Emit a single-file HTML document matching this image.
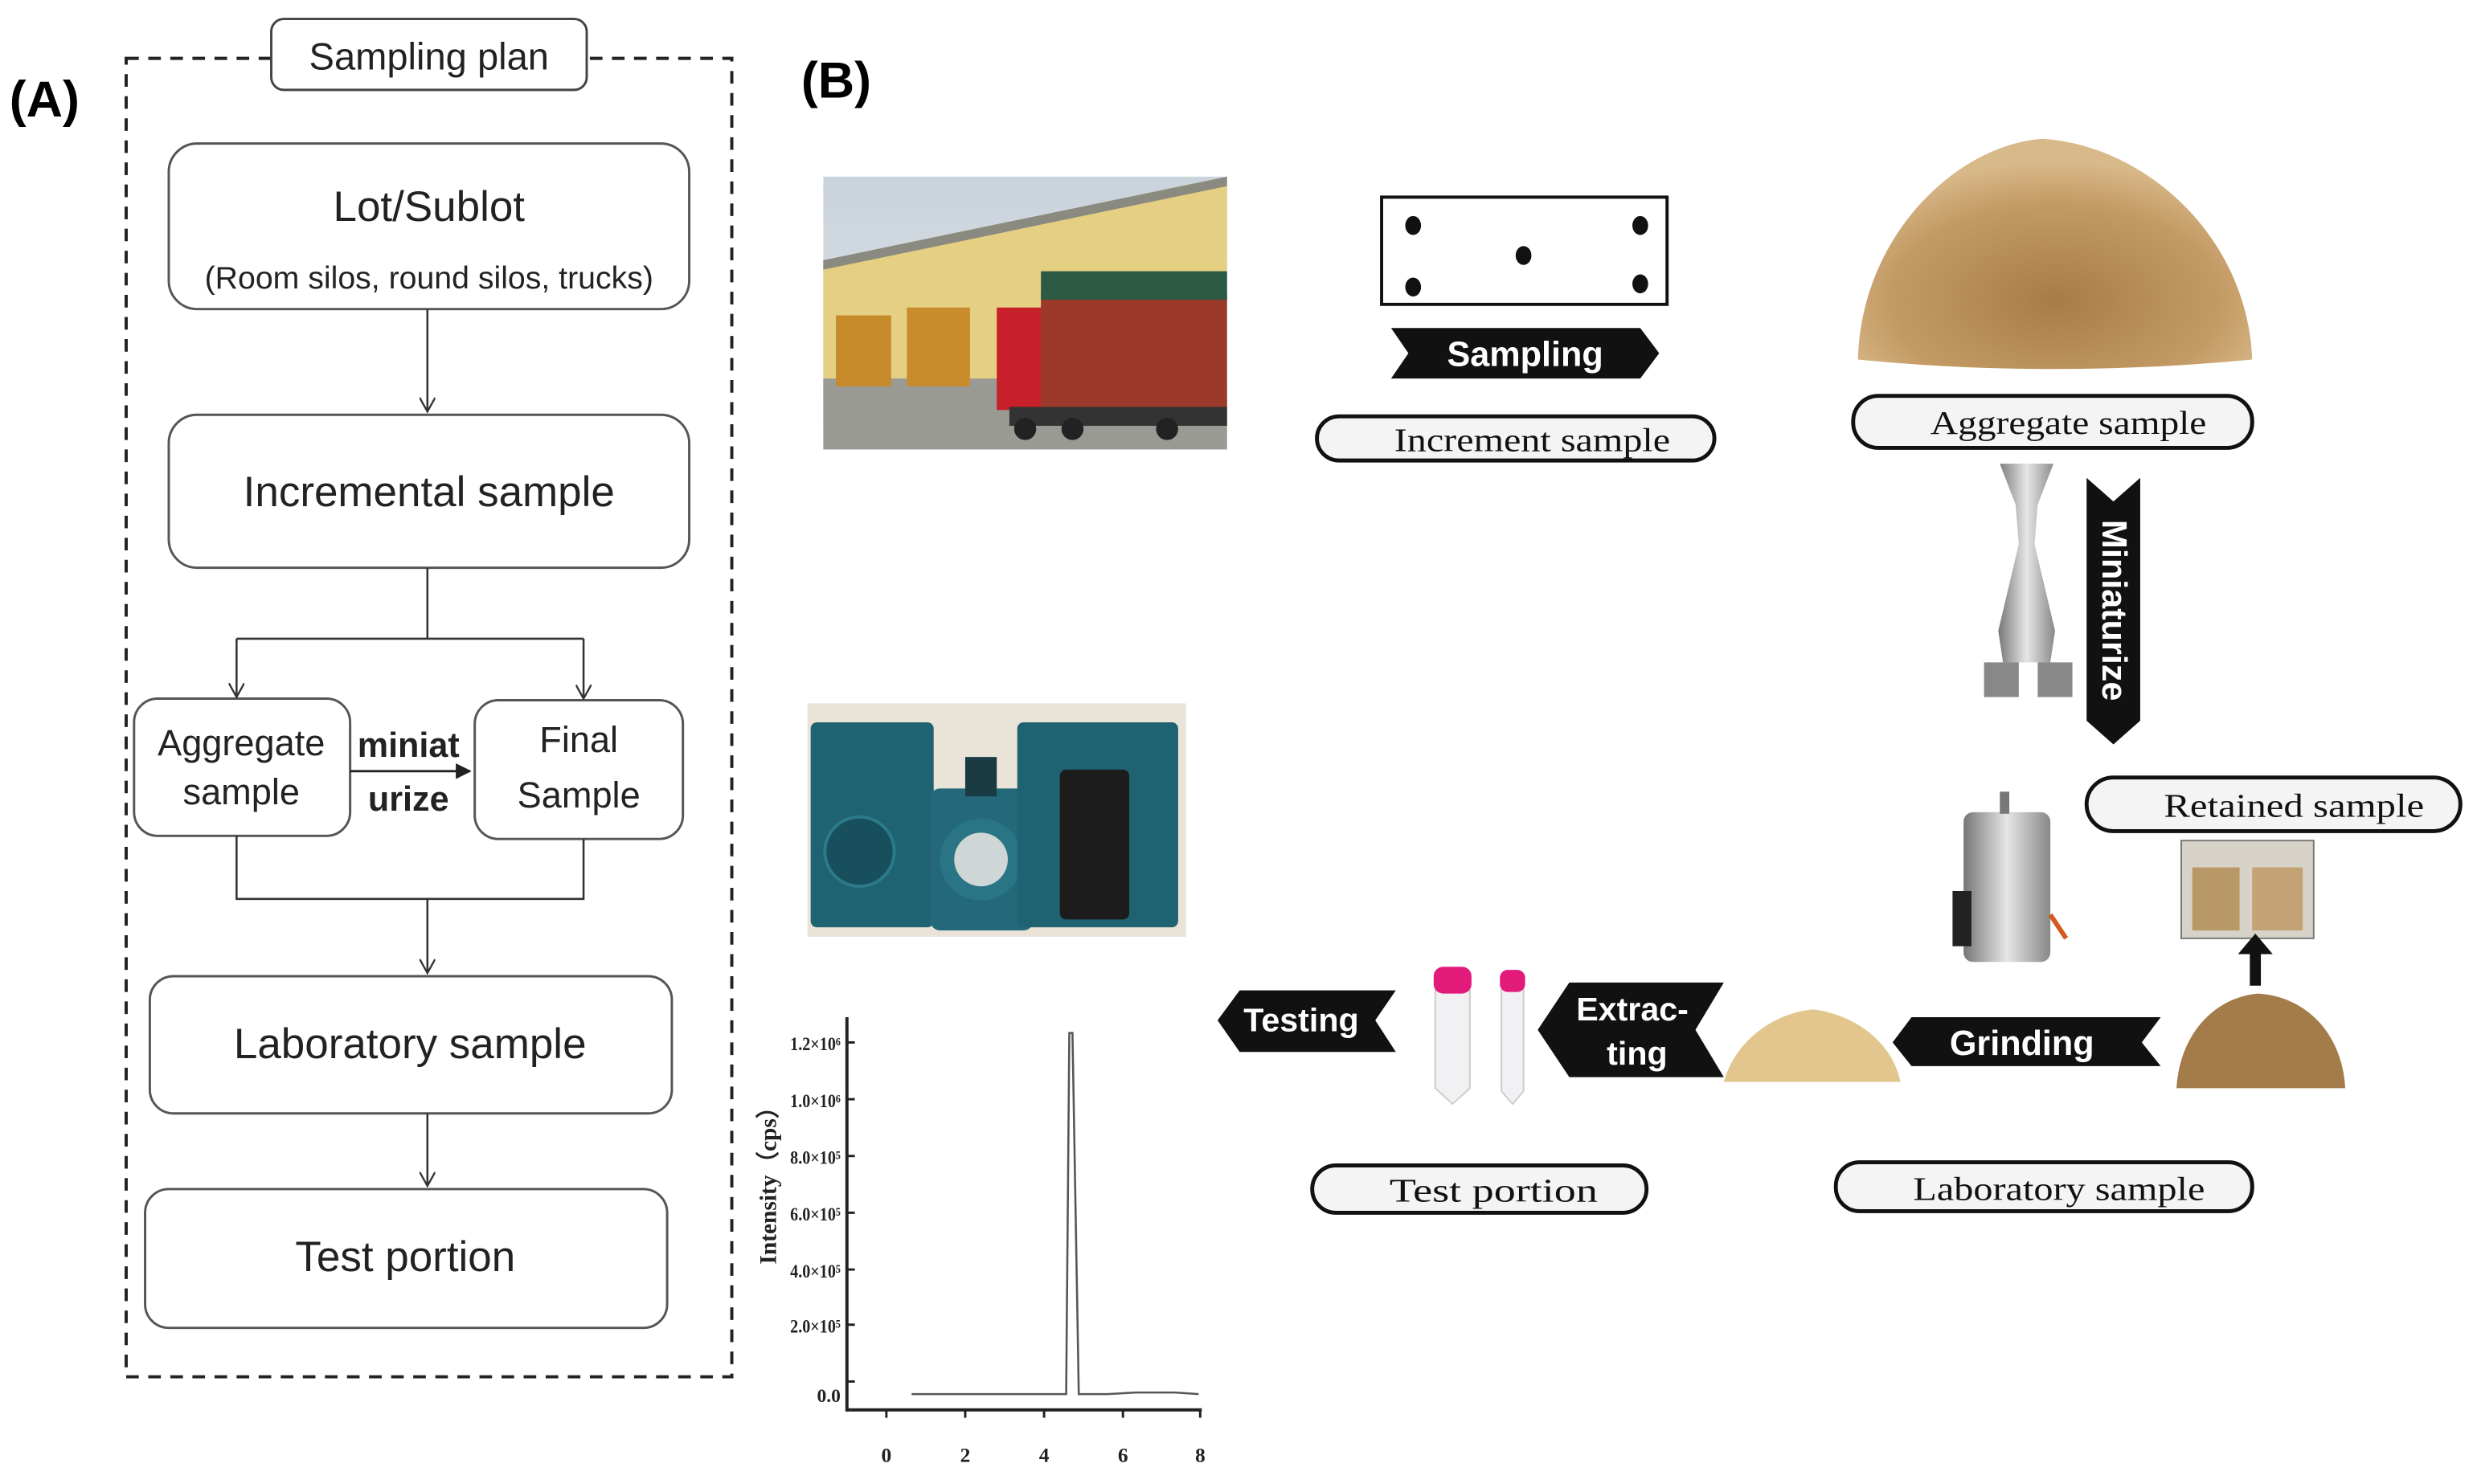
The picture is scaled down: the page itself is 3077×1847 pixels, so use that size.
<!DOCTYPE html>
<html><head><meta charset="utf-8"><style>
html,body{margin:0;padding:0;background:#fff;}
svg{display:block;}
</style></head><body>
<svg width="3077" height="1847" viewBox="0 0 1568 941" preserveAspectRatio="none" xmlns="http://www.w3.org/2000/svg">
<defs>
<marker id="ah" markerWidth="10" markerHeight="10" refX="9" refY="5" orient="auto" markerUnits="userSpaceOnUse">
<path d="M0,0 L9,5 L0,10" fill="none" stroke="#333" stroke-width="1.2"/></marker>
<marker id="ahf" markerWidth="10" markerHeight="10" refX="9" refY="5" orient="auto" markerUnits="userSpaceOnUse">
<path d="M0,0 L10,5 L0,10 Z" fill="#222"/></marker>
<radialGradient id="wheat" cx="50%" cy="70%" r="60%"><stop offset="0" stop-color="#a87c48"/><stop offset="0.7" stop-color="#c39a64"/><stop offset="1" stop-color="#d8b98a"/></radialGradient>
<linearGradient id="sky" x1="0" y1="0" x2="0" y2="1"><stop offset="0" stop-color="#c9d3dc"/><stop offset="1" stop-color="#e3e6e8"/></linearGradient>
<linearGradient id="steel" x1="0" y1="0" x2="1" y2="0"><stop offset="0" stop-color="#777"/><stop offset="0.5" stop-color="#e6e6e6"/><stop offset="1" stop-color="#888"/></linearGradient>
</defs>
<g font-family="Liberation Sans, sans-serif">
<!-- Panel A -->
<text x="6" y="74" font-size="32" font-weight="bold">(A)</text>
<rect x="80" y="37" width="384" height="836" fill="none" stroke="#222" stroke-width="2" stroke-dasharray="8,6"/>
<rect x="172" y="12" width="200" height="45" rx="8" fill="#fff" stroke="#444" stroke-width="1.5"/>
<text x="272" y="44" font-size="24" text-anchor="middle" fill="#222">Sampling plan</text>
<g fill="#fff" stroke="#555" stroke-width="1.5">
<rect x="107" y="91" width="330" height="105" rx="18"/>
<rect x="107" y="263" width="330" height="97" rx="18"/>
<rect x="85" y="443" width="137" height="87" rx="15"/>
<rect x="301" y="444" width="132" height="88" rx="15"/>
<rect x="95" y="619" width="331" height="87" rx="15"/>
<rect x="92" y="754" width="331" height="88" rx="15"/>
</g>
<g fill="#222" text-anchor="middle">
<text x="272" y="140" font-size="27">Lot/Sublot</text>
<text x="272" y="183" font-size="20">(Room silos, round silos, trucks)</text>
<text x="272" y="321" font-size="27">Incremental sample</text>
<text x="153" y="479" font-size="23">Aggregate</text>
<text x="153" y="510" font-size="23">sample</text>
<text x="367" y="477" font-size="23">Final</text>
<text x="367" y="512" font-size="23">Sample</text>
<text x="259" y="480" font-size="22" font-weight="bold">miniat</text>
<text x="259" y="514" font-size="22" font-weight="bold">urize</text>
<text x="260" y="671" font-size="27">Laboratory sample</text>
<text x="257" y="806" font-size="27">Test portion</text>
</g>
<g stroke="#333" stroke-width="1.3" fill="none">
<line x1="271" y1="196" x2="271" y2="261" marker-end="url(#ah)"/>
<polyline points="271,360 271,405"/>
<polyline points="150,405 370,405"/>
<line x1="150" y1="405" x2="150" y2="442" marker-end="url(#ah)"/>
<line x1="370" y1="405" x2="370" y2="443" marker-end="url(#ah)"/>
<polyline points="150,530 150,570 370,570 370,532"/>
<line x1="271" y1="570" x2="271" y2="617" marker-end="url(#ah)"/>
<line x1="271" y1="706" x2="271" y2="752" marker-end="url(#ah)"/>
</g>
<line x1="222" y1="489" x2="298" y2="489" stroke="#222" stroke-width="1.5" marker-end="url(#ahf)"/>

<!-- Panel B -->
<text x="508" y="62" font-size="32" font-weight="bold">(B)</text>
<!-- warehouse photo -->
<rect x="522" y="112" width="256" height="173" fill="url(#sky)"/>
<polygon points="522,165 778,112 778,235 522,250" fill="#e4cf82"/>
<polygon points="522,165 778,112 778,118 522,171" fill="#8a8a80"/>
<rect x="522" y="240" width="256" height="45" fill="#9a9a94"/>
<rect x="530" y="200" width="35" height="45" fill="#c78a2a"/>
<rect x="575" y="195" width="40" height="50" fill="#c98c2c"/>
<rect x="632" y="195" width="30" height="65" fill="#c8202a"/>
<rect x="660" y="185" width="118" height="75" fill="#9b3a2a"/>
<rect x="660" y="172" width="118" height="18" fill="#2d5a45"/>
<rect x="640" y="258" width="138" height="12" fill="#333"/>
<circle cx="650" cy="272" r="7" fill="#222"/><circle cx="680" cy="272" r="7" fill="#222"/><circle cx="740" cy="272" r="7" fill="#222"/>
<!-- sampling rect -->
<rect x="876" y="125" width="181" height="68" fill="#fff" stroke="#111" stroke-width="2"/>
<g fill="#111"><ellipse cx="896" cy="143" rx="5" ry="6"/><ellipse cx="896" cy="182" rx="5" ry="6"/><ellipse cx="966" cy="162" rx="5" ry="6"/><ellipse cx="1040" cy="143" rx="5" ry="6"/><ellipse cx="1040" cy="180" rx="5" ry="6"/></g>
<polygon points="882,208 1040,208 1052,224 1040,240 882,240 893,224" fill="#111"/>
<text x="967" y="232" font-size="22" font-weight="bold" fill="#fff" text-anchor="middle">Sampling</text>
<!-- pills -->
<g fill="#f4f4f4" stroke="#111" stroke-width="2.5">
<rect x="835" y="264" width="252" height="28" rx="14"/>
<rect x="1175" y="251" width="253" height="33" rx="16"/>
<rect x="1323" y="493" width="237" height="34" rx="17"/>
<rect x="832" y="739" width="212" height="30" rx="15"/>
<rect x="1164" y="737" width="264" height="31" rx="15"/>
</g>
<g font-family="Liberation Serif, serif" font-size="21" fill="#111" lengthAdjust="spacingAndGlyphs">
<text x="884" y="286" textLength="175" lengthAdjust="spacingAndGlyphs">Increment sample</text>
<text x="1224" y="275" textLength="175" lengthAdjust="spacingAndGlyphs">Aggregate sample</text>
<text x="1372" y="518" textLength="165" lengthAdjust="spacingAndGlyphs">Retained sample</text>
<text x="881" y="762" textLength="132" lengthAdjust="spacingAndGlyphs">Test portion</text>
<text x="1213" y="761" textLength="185" lengthAdjust="spacingAndGlyphs">Laboratory sample</text>
</g>
<!-- wheat pile -->
<path d="M1178,228 C1180,150 1240,92 1295,88 C1360,92 1425,150 1428,228 Q1300,240 1178,228 Z" fill="url(#wheat)"/>
<!-- miniaturize banner -->
<polygon points="1323,303 1340,318 1357,303 1357,457 1340,472 1323,457" fill="#111"/>
<text transform="translate(1333,387) rotate(90)" font-size="22" font-weight="bold" fill="#fff" text-anchor="middle">Miniaturize</text>
<!-- divider -->
<path d="M1268,294 L1302,294 L1292,320 L1290,345 L1303,400 L1300,420 L1270,420 L1267,400 L1280,345 L1278,320 Z" fill="url(#steel)"/>
<rect x="1258" y="420" width="22" height="22" fill="#888"/><rect x="1292" y="420" width="22" height="22" fill="#888"/>
<!-- grinder -->
<rect x="1245" y="515" width="55" height="95" rx="6" fill="url(#steel)"/>
<rect x="1238" y="565" width="12" height="35" fill="#222"/>
<rect x="1268" y="502" width="6" height="14" fill="#777"/>
<line x1="1300" y1="580" x2="1310" y2="595" stroke="#d45a20" stroke-width="3"/>
<!-- bags -->
<rect x="1383" y="533" width="84" height="62" fill="#d8d3c8" stroke="#777"/>
<rect x="1390" y="550" width="30" height="40" fill="#b89866"/><rect x="1428" y="550" width="32" height="40" fill="#c3a273"/>
<rect x="1426.5" y="604" width="7" height="21" fill="#111"/>
<polygon points="1419,605 1430,592 1441,605" fill="#111"/>
<!-- small wheat pile -->
<path d="M1380,690 C1382,655 1405,632 1432,630 C1462,632 1485,655 1487,690 Z" fill="#a47c4a"/>
<!-- Grinding banner -->
<polygon points="1200,661 1212,645 1370,645 1358,661 1370,676 1212,676" fill="#111"/>
<text x="1282" y="669" font-size="22" font-weight="bold" fill="#fff" text-anchor="middle">Grinding</text>
<!-- powder -->
<path d="M1093,686 C1100,660 1125,642 1150,640 C1178,644 1200,662 1205,686 Z" fill="#e2c68e"/>
<!-- Extracting banner -->
<polygon points="975,653 995,623 1093,623 1075,653 1093,683 995,683" fill="#111"/>
<text x="1035" y="647" font-size="21" font-weight="bold" fill="#fff" text-anchor="middle">Extrac-</text>
<text x="1038" y="675" font-size="21" font-weight="bold" fill="#fff" text-anchor="middle">ting</text>
<!-- tubes -->
<path d="M910,628 L932,628 L932,690 L921,700 L910,690 Z" fill="#f1f1f3" stroke="#ccc"/>
<rect x="909" y="613" width="24" height="17" rx="6" fill="#e21a7a"/>
<path d="M952,627 L966,627 L966,692 L959,700 L952,692 Z" fill="#f1f1f3" stroke="#ccc"/>
<rect x="951" y="615" width="16" height="14" rx="5" fill="#e21a7a"/>
<!-- Testing banner -->
<polygon points="772,647 786,628 885,628 872,647 885,667 786,667" fill="#111"/>
<text x="825" y="654" font-size="21" font-weight="bold" fill="#fff" text-anchor="middle">Testing</text>
<!-- instrument -->
<rect x="512" y="446" width="240" height="148" fill="#e9e3d8"/>
<rect x="514" y="458" width="78" height="130" rx="4" fill="#1f6272"/>
<circle cx="545" cy="540" r="22" fill="#184f5c" stroke="#2b7a8a" stroke-width="2"/>
<rect x="590" y="500" width="65" height="90" rx="6" fill="#24697a"/>
<circle cx="622" cy="545" r="26" fill="#2a7585"/><circle cx="622" cy="545" r="17" fill="#cfd6d6"/>
<rect x="645" y="458" width="102" height="130" rx="4" fill="#1f6272"/>
<rect x="672" y="488" width="44" height="95" rx="4" fill="#1c1c1c"/>
<rect x="612" y="480" width="20" height="25" fill="#1a3a44"/>
<!-- chromatogram -->
<g stroke="#222" fill="none">
<line x1="537" y1="645" x2="537" y2="895" stroke-width="2"/>
<line x1="537" y1="894" x2="762" y2="894" stroke-width="2"/>
<g stroke-width="1.5">
<line x1="537" y1="661" x2="542" y2="661"/><line x1="537" y1="697" x2="542" y2="697"/><line x1="537" y1="733" x2="542" y2="733"/><line x1="537" y1="769" x2="542" y2="769"/><line x1="537" y1="805" x2="542" y2="805"/><line x1="537" y1="840" x2="542" y2="840"/><line x1="537" y1="876" x2="542" y2="876"/>
<line x1="562" y1="894" x2="562" y2="899"/><line x1="612" y1="894" x2="612" y2="899"/><line x1="662" y1="894" x2="662" y2="899"/><line x1="712" y1="894" x2="712" y2="899"/><line x1="761" y1="894" x2="761" y2="899"/>
</g>
<polyline points="578,884 676,884 678,655 680,655 684,884 702,884 720,883 745,883 760,884" stroke="#555" stroke-width="1.3"/>
</g>
<g font-family="Liberation Serif, serif" font-weight="bold" font-size="12" fill="#222" text-anchor="end">
<text x="533" y="666" textLength="32" lengthAdjust="spacingAndGlyphs">1.2×10⁶</text><text x="533" y="702" textLength="32" lengthAdjust="spacingAndGlyphs">1.0×10⁶</text><text x="533" y="738" textLength="32" lengthAdjust="spacingAndGlyphs">8.0×10⁵</text><text x="533" y="774" textLength="32" lengthAdjust="spacingAndGlyphs">6.0×10⁵</text><text x="533" y="810" textLength="32" lengthAdjust="spacingAndGlyphs">4.0×10⁵</text><text x="533" y="845" textLength="32" lengthAdjust="spacingAndGlyphs">2.0×10⁵</text><text x="533" y="889">0.0</text>
</g>
<g font-family="Liberation Serif, serif" font-weight="bold" font-size="13" fill="#222" text-anchor="middle">
<text x="562" y="927">0</text><text x="612" y="927">2</text><text x="662" y="927">4</text><text x="712" y="927">6</text><text x="761" y="927">8</text>
</g>
<text transform="translate(492,748) rotate(-90)" font-family="Liberation Serif, serif" font-weight="bold" font-size="15" fill="#222" text-anchor="middle">Intensity（cps）</text>
</g>
</svg>
</body></html>
